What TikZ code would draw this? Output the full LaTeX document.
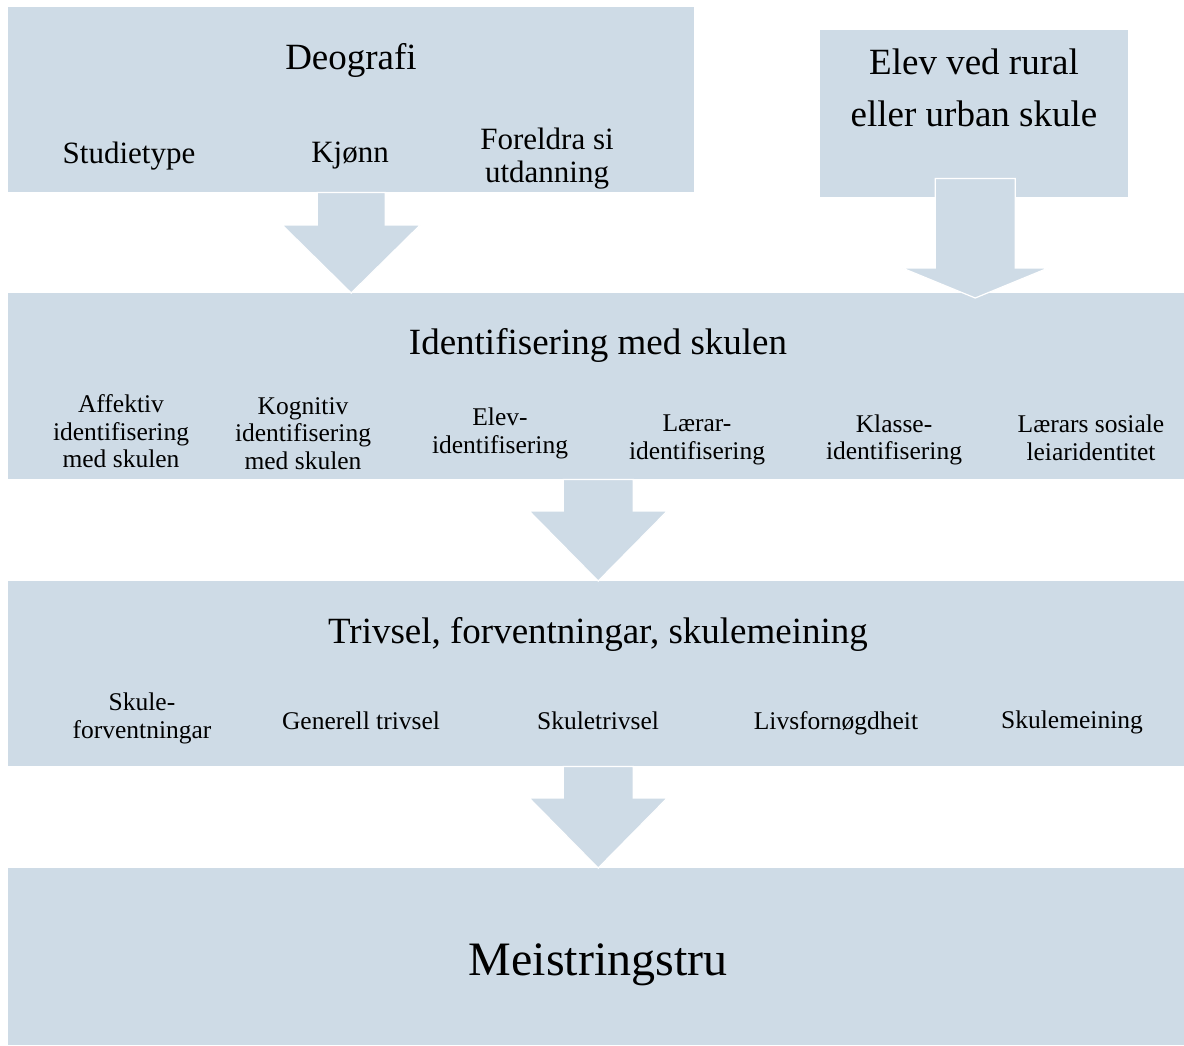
\documentclass[tikz,border=0pt]{standalone}
\usepackage{fontspec}
\setmainfont{Liberation Serif}
\usetikzlibrary{calc}
\definecolor{boxblue}{RGB}{206,219,230}
\tikzset{
  panel/.style={fill=boxblue, draw=none, inner sep=0pt, anchor=north west},
  bigtxt/.style={font=\fontsize{37}{52}\selectfont, align=center, inner sep=0pt},
  midtxt/.style={font=\fontsize{31}{33}\selectfont, align=center, inner sep=0pt},
  smalltxt/.style={font=\fontsize{25.5}{27.5}\selectfont, align=center, inner sep=0pt},
  hugetxt/.style={font=\fontsize{48}{56}\selectfont, align=center, inner sep=0pt},
  blockarrow/.style={fill=boxblue, draw=white, line width=1.2pt, line join=miter}
}
% #1 start, #2 tip, #3 shaft half width, #4 head length, #5 head half width
\newcommand\blockarr[5]{%
  \path[blockarrow] let \p1=(#1), \p2=(#2) in
    (\x1-#3pt,\y1) -- (\x1+#3pt,\y1) -- (\x1+#3pt,\y2+#4pt) -- (\x1+#5pt,\y2+#4pt)
    -- (\x1,\y2) -- (\x1-#5pt,\y2+#4pt) -- (\x1-#3pt,\y2+#4pt) -- cycle;}
\begin{document}
\begin{tikzpicture}[x=1pt,y=-1pt]
\useasboundingbox (0,0) rectangle (1184,1045);
\fill[white] (0,0) rectangle (1184,1045);
% panels
\node[panel, minimum width=686pt, minimum height=185pt] (demo) at (8,7) {};
\node[panel, minimum width=308pt, minimum height=167pt] (rural) at (820,30) {};
\node[panel, minimum width=1176pt, minimum height=186pt] (ident) at (8,293) {};
\node[panel, minimum width=1176pt, minimum height=185pt] (triv) at (8,581) {};
\node[panel, minimum width=1176pt, minimum height=177pt] (meist) at (8,868) {};
% block arrows
\coordinate (a1s) at (demo.south);
\coordinate (a1e) at (demo.south |- ident.north);
\blockarr{a1s}{a1e}{34}{68}{69}
\coordinate (a2s) at ($(rural.south)+(1,-19)$);
\coordinate (a2e) at ($(rural.south |- ident.north)+(1,5)$);
\blockarr{a2s}{a2e}{40}{30}{73}
\coordinate (a3s) at ($(ident.south)+(2,0)$);
\coordinate (a3e) at ($(triv.north)+(2,0)$);
\blockarr{a3s}{a3e}{35}{70}{69}
\coordinate (a4s) at ($(triv.south)+(2,0)$);
\coordinate (a4e) at ($(meist.north)+(2,0)$);
\blockarr{a4s}{a4e}{35}{70}{69}
% texts, top left
\node[bigtxt] (tdemo) at (351,60) {Deografi};
\node[midtxt] (tstud) at (129,156) {Studietype};
\node[midtxt] (tkjonn) at (350,156) {Kjønn};
\node[midtxt] (tforel) at (547,158.5) {Foreldra si\\utdanning};
% top right
\node[bigtxt] (trural) at (974,88) {Elev ved rural\\eller urban skule};
% identification
\node[bigtxt] (tident) at (598,345) {Identifisering med skulen};
\node[smalltxt] (taff) at (121,431.5) {Affektiv\\identifisering\\med skulen};
\node[smalltxt] (tkog) at (303,433.5) {Kognitiv\\identifisering\\med skulen};
\node[smalltxt] (telev) at (500,433.5) {Elev-\\identifisering};
\node[smalltxt] (tlaer) at (697,440) {Lærar-\\identifisering};
\node[smalltxt] (tklas) at (894,440) {Klasse-\\identifisering};
\node[smalltxt] (tleiar) at (1091,438) {Lærars sosiale\\leiaridentitet};
% wellbeing
\node[bigtxt] (ttriv) at (598,634) {Trivsel, forventningar, skulemeining};
\node[smalltxt] (tforv) at (142,718.5) {Skule-\\forventningar};
\node[smalltxt] (tgen) at (361,721) {Generell trivsel};
\node[smalltxt] (tskt) at (598,721) {Skuletrivsel};
\node[smalltxt] (tliv) at (836,723) {Livsfornøgdheit};
\node[smalltxt] (tskm) at (1072,722.5) {Skulemeining};
% bottom
\node[hugetxt] (tmeist) at (598,965) {Meistringstru};
\end{tikzpicture}
\end{document}
